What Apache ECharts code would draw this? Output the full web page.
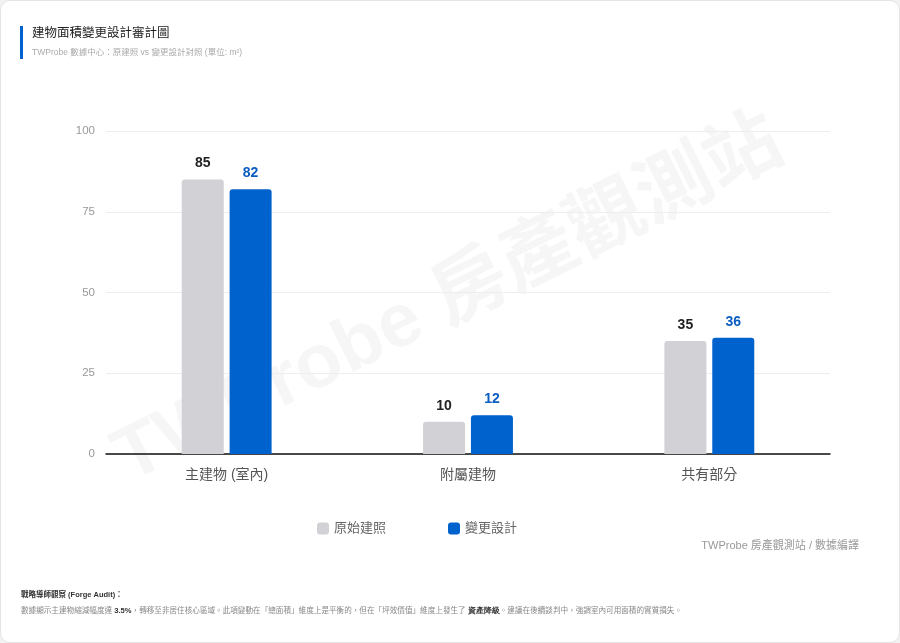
<!DOCTYPE html>
<html lang="zh-Hant">
<head>
<meta charset="UTF-8">
<title>建物面積變更設計審計圖</title>
<script src="https://cdn.jsdelivr.net/npm/echarts@6/dist/echarts.min.js"></script>
<style>
  html, body { margin: 0; padding: 0; background: #f2f2f2; }
  #card {
    position: absolute; left: 0; top: 0;
    width: 898px; height: 641px;
    background: #fff;
    border: 1px solid #e4e4e4;
    border-radius: 10px;
    overflow: hidden;
  }
  #main { width: 898px; height: 641px; }
</style>
</head>
<body>
<div id="card"><div id="main"></div></div>
<script type="text/javascript">
  // 分類與數值
  var categories = ['主建物 (室內)', '附屬建物', '共有部分'];
  var originalPermit = [85, 10, 35];   // 原始建照
  var revisedDesign = [82, 12, 36];    // 變更設計
  var seriesNames = ['原始建照', '變更設計'];
  var yTicks = [0, 25, 50, 75, 100];

  var FONT = '"Liberation Sans", Arial, "Noto Sans CJK TC", sans-serif';
  var GRAY = '#d1d1d6';
  var BLUE = '#0062cc';

  var chart = echarts.init(document.getElementById('main'));

  var option = {
    textStyle: { fontFamily: FONT },
    animation: false,
    title: [{
      text: '建物面積變更設計審計圖',
      left: 26, top: 21,
      textStyle: { fontSize: 12.5, fontWeight: 'normal', color: '#222', fontFamily: FONT }
    }, {
      text: 'TWProbe 數據中心：原建照 vs 變更設計對照 (單位: m²)',
      left: 26, top: 42,
      textStyle: { fontSize: 8.5, fontWeight: 'normal', color: '#aaa', fontFamily: FONT }
    }],
    graphic: [
      // 標題左側藍色標記
      { type: 'rect', left: 19, top: 25, shape: { width: 3, height: 33 }, style: { fill: BLUE } },
      // 浮水印
      {
        type: 'text', x: 448, y: 300, rotation: 0.46, z: -10,
        style: {
          text: 'TWProbe 房產觀測站',
          font: 'bold 76px ' + FONT,
          fill: 'rgba(0,0,0,0.035)',
          align: 'center', verticalAlign: 'middle'
        }
      },
      // 資料來源
      {
        type: 'text', right: 40, top: 539,
        style: { text: 'TWProbe 房產觀測站 / 數據編譯', font: '11px ' + FONT, fill: '#999' }
      },
      // 觀察說明
      {
        type: 'text', left: 20, top: 590,
        style: { text: '戰略導師觀察 (Forge Audit)：', font: 'bold 7.5px ' + FONT, fill: '#333' }
      },
      {
        type: 'text', left: 20, top: 606,
        style: {
          text: '數據顯示主建物縮減幅度達 {b|3.5%}，轉移至非居住核心區域。此項變動在「總面積」維度上是平衡的，但在「坪效價值」維度上發生了 {b|資產降級}。建議在後續談判中，強調室內可用面積的實質損失。',
          font: '7.6px ' + FONT,
          fill: '#888',
          rich: { b: { fontWeight: 'bold', fill: '#333', color: '#333', fontSize: 7.6 } }
        }
      }
    ],
    legend: {
      data: seriesNames,
      top: 516, left: 311,
      itemWidth: 12, itemHeight: 12, itemGap: 62,
      icon: 'roundRect',
      textStyle: { fontSize: 13, color: '#666', fontFamily: FONT }
    },
    grid: { left: 105, right: 69, top: 130, bottom: 188, containLabel: false },
    xAxis: {
      type: 'category',
      data: categories,
      axisLine: { lineStyle: { color: '#111', width: 1.5 } },
      axisTick: { show: false },
      axisLabel: { fontSize: 14, color: '#555', margin: 14, fontFamily: FONT }
    },
    yAxis: {
      type: 'value',
      min: yTicks[0], max: yTicks[yTicks.length - 1], interval: 25,
      axisLine: { show: false },
      axisTick: { show: false },
      axisLabel: { fontSize: 11.5, color: '#999', margin: 11 },
      splitLine: { lineStyle: { color: '#eeeeee' } }
    },
    series: [{
      name: seriesNames[0],
      type: 'bar',
      data: originalPermit,
      barWidth: 42,
      barGap: '14%',
      itemStyle: { color: GRAY, borderRadius: [3, 3, 0, 0] },
      label: { show: true, position: 'top', distance: 9, fontSize: 14, fontWeight: 'bold', color: '#222' }
    }, {
      name: seriesNames[1],
      type: 'bar',
      data: revisedDesign,
      barWidth: 42,
      itemStyle: { color: BLUE, borderRadius: [3, 3, 0, 0] },
      label: { show: true, position: 'top', distance: 9, fontSize: 14, fontWeight: 'bold', color: '#0a5cc0' }
    }]
  };

  chart.setOption(option);
</script>
</body>
</html>
